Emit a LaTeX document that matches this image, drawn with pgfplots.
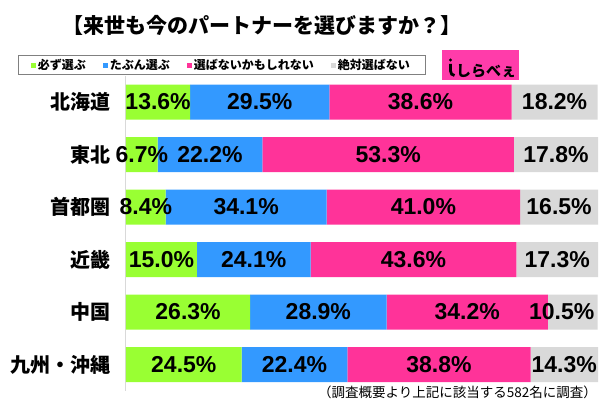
\documentclass[border=0pt]{standalone}
\usepackage{fontspec}
\setmainfont{Liberation Sans}
\newfontfamily\cjk{Noto Sans CJK JP}
\usepackage{pgfplots}
\pgfplotsset{compat=1.18}

\definecolor{cGreen}{RGB}{153,255,51}
\definecolor{cBlue}{RGB}{51,153,255}
\definecolor{cPink}{RGB}{255,51,153}
\definecolor{cGrey}{RGB}{217,217,217}
\definecolor{cLogo}{RGB}{255,60,170}

\pgfplotsset{
  legsq/.style={legend image code/.code={\path[##1,draw=none] (0pt,-2.5pt) rectangle (5pt,2.5pt);}}
}

\begin{document}
\begin{tikzpicture}[x=1pt,y=1pt]
\path[use as bounding box, fill=white] (0,0) rectangle (600,400);

% title
\node[font=\cjk\bfseries\fontsize{21}{21}\selectfont] at (262,375) {【来世も今のパートナーを選びますか？】};

% logo
\fill[cLogo] (442,320) rectangle (519,350);
\fill[black] (450.5,340) circle (1.7pt);
\draw[black, line width=2.8pt] (450.5,336) -- (450.5,329) to[out=-90,in=180] (454.5,324.5);
\node[font=\cjk\bfseries\fontsize{15}{15}\selectfont, anchor=west, inner sep=0pt] at (456,328.5) {しらべぇ};

% footnote
\node[font=\cjk\fontsize{13.5}{13.5}\selectfont, anchor=east, inner sep=0pt] at (597,8) {（調査概要より上記に該当する582名に調査）};

\begin{axis}[
  at={(126pt,9.25pt)}, anchor=south west,
  scale only axis, width=472pt, height=315pt,
  xbar stacked, bar width=35pt,
  xmin=0, xmax=100, ymin=-0.5, ymax=5.5, y dir=reverse,
  axis x line=none, axis y line*=left,
  y axis line style={draw=black!15, line width=1pt},
  ytick={0,...,5},
  yticklabels={北海道,東北,首都圏,近畿,中国,九州・沖縄},
  major tick length=0pt,
  yticklabel style={font=\cjk\bfseries\fontsize{20}{20}\selectfont, xshift=-12pt},
  point meta=explicit,
  nodes near coords={\pgfmathprintnumber[fixed,fixed zerofill,precision=1,assume math mode=true]{\pgfplotspointmeta}\%},
  every node near coord/.append style={font=\bfseries\fontsize{23}{23}\selectfont, text=black},
  legend columns=4,
  legend style={at={(axis description cs:0.2023,1.034)}, anchor=center,
    draw=black!50, font=\cjk\bfseries\fontsize{12}{12}\selectfont,
    inner ysep=1.5pt, inner xsep=13pt,
    /tikz/every even column/.append style={column sep=15pt}},
]
\addplot[fill=cGreen, draw=none, legsq] coordinates {
  (13.6,0)[13.6] (6.7,1)[6.7] (8.4,2)[8.4] (15.0,3)[15.0] (26.3,4)[26.3] (24.5,5)[24.5]};
\addplot[fill=cBlue, draw=none, legsq] coordinates {
  (29.5,0)[29.5] (22.2,1)[22.2] (34.1,2)[34.1] (24.1,3)[24.1] (28.9,4)[28.9] (22.4,5)[22.4]};
\addplot[fill=cPink, draw=none, legsq] coordinates {
  (38.6,0)[38.6] (53.3,1)[53.3] (41.0,2)[41.0] (43.6,3)[43.6] (34.2,4)[34.2] (38.8,5)[38.8]};
\addplot[fill=cGrey, draw=none, legsq,
  visualization depends on={y \as \rawy},
  every node near coord/.append style={xshift={(abs(\rawy-4)<0.1)*(-11pt)}}] coordinates {
  (18.2,0)[18.2] (17.8,1)[17.8] (16.5,2)[16.5] (17.3,3)[17.3] (10.5,4)[10.5] (14.3,5)[14.3]};
\legend{必ず選ぶ,たぶん選ぶ,選ばないかもしれない,絶対選ばない}
\end{axis}
\end{tikzpicture}
\end{document}
